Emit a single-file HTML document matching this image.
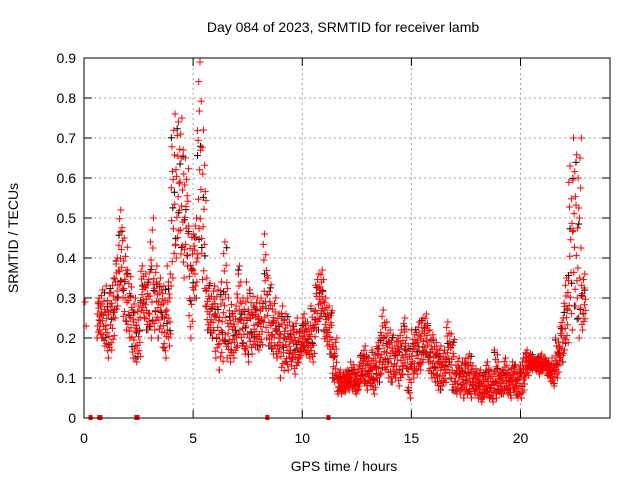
<!DOCTYPE html>
<html><head><meta charset="utf-8"><style>
body{margin:0;background:#fff}
svg{display:block;font-family:"Liberation Sans",sans-serif}
</style></head><body>
<svg id="chart" width="640" height="480" xmlns="http://www.w3.org/2000/svg">
<rect width="640" height="480" fill="#fff"/>
<text x="343" y="32" font-size="14" text-anchor="middle">Day 084 of 2023, SRMTID for receiver lamb</text>
<text transform="translate(18,238) rotate(-90)" font-size="14" text-anchor="middle">SRMTID / TECUs</text>
<text x="344" y="471" font-size="14" text-anchor="middle">GPS time / hours</text>
<g id="grid"></g>
<g id="ticks"></g>
<g id="pts"></g>
<rect x="84" y="58" width="526" height="360" fill="none" stroke="#000" stroke-width="1"/>
</svg>
<script>
const xTicks=[0,5,10,15,20];
const yTicks=[0,0.1,0.2,0.3,0.4,0.5,0.6,0.7,0.8,0.9];
const yTickLabels=["0","0.1","0.2","0.3","0.4","0.5","0.6","0.7","0.8","0.9"];
const binStart=0.6, binStep=0.2;
const lo=[.20,.18,.15,.17,.25,.30,.22,.20,.15,.14,.25,.22,.20,.22,.20,.15,.18,.35,.40,.35,.38,.20,.30,.40,.28,.22,.20,.15,.12,.15,.14,.15,.18,.16,.14,.16,.18,.17,.20,.18,.16,.15,.10,.12,.13,.11,.14,.16,.15,.14,.22,.25,.18,.16,.09,.06,.06,.07,.07,.06,.08,.07,.08,.06,.09,.11,.10,.09,.10,.08,.11,.05,.10,.11,.12,.14,.10,.09,.07,.08,.10,.07,.06,.06,.05,.05,.06,.05,.04,.05,.04,.05,.06,.06,.05,.07,.05,.05,.10,.12,.12,.11,.12,.10,.08,.10,.14,.17,.22,.28,.20,.22];
const hi=[.30,.32,.33,.35,.40,.52,.45,.37,.30,.28,.38,.36,.50,.38,.35,.33,.38,.76,.74,.75,.65,.48,.50,.89,.72,.35,.33,.32,.34,.44,.30,.28,.38,.30,.34,.32,.30,.30,.46,.35,.30,.26,.28,.26,.24,.25,.22,.26,.24,.28,.36,.37,.30,.28,.20,.12,.11,.12,.14,.12,.16,.18,.15,.17,.20,.27,.24,.22,.20,.22,.25,.18,.22,.24,.25,.26,.22,.20,.18,.17,.24,.21,.15,.14,.15,.16,.13,.12,.11,.14,.12,.17,.12,.15,.12,.14,.13,.15,.17,.16,.15,.16,.15,.14,.15,.20,.25,.35,.63,.70,.70,.36];
const zeroTimes=[0.3,0.7,0.75,2.4,2.45,8.4,11.2];
const extraT=[0.05,0.1];
const extraV=[0.29,0.23];

const X=t=>84+t*(526/24.1);
const Y=v=>418-v*400;
const NS="http://www.w3.org/2000/svg";
const grid=document.getElementById('grid'),ticks=document.getElementById('ticks'),pts=document.getElementById('pts');
function mk(tag,attrs,parent){const e=document.createElementNS(NS,tag);for(const k in attrs)e.setAttribute(k,attrs[k]);parent.appendChild(e);return e;}
yTicks.forEach((v,i)=>{
  const y=Y(v);
  if(i>0&&i<yTicks.length-1){const g=mk('line',{x1:84,x2:610,y1:y,y2:y,stroke:'#a0a0a0','stroke-dasharray':'2,3'},grid);
  
  }
  mk('line',{x1:84,x2:92,y1:y,y2:y,stroke:'#000'},ticks);
  mk('line',{x1:602,x2:610,y1:y,y2:y,stroke:'#000'},ticks);
  const t=mk('text',{x:76,y:y+5,'font-size':14,'text-anchor':'end'},ticks);t.textContent=yTickLabels[i];
  
  
});
xTicks.forEach(v=>{
  const x=X(v);
  if(v>0){const g=mk('line',{x1:x,x2:x,y1:58,y2:418,stroke:'#a0a0a0','stroke-dasharray':'2,3'},grid);
  
  }
  mk('line',{x1:x,x2:x,y1:418,y2:410,stroke:'#000'},ticks);
  mk('line',{x1:x,x2:x,y1:58,y2:66,stroke:'#000'},ticks);
  const t=mk('text',{x:x,y:443,'font-size':14,'text-anchor':'middle'},ticks);t.textContent=String(v);
  
  
});
function plus(t,v,col){
  const x=X(t),y=Y(v);
  const p=mk('path',{d:`M${x-3.5},${y}h7M${x},${y-3.5}v7`,stroke:col,'stroke-width':1,fill:'none'},pts);
  
  
}
const frac=[0,.6,.3,.9,.15,.75,.45,1,.2,.55,.35,.8,.1,.65];
lo.forEach((l,i)=>{const h=hi[i];for(let k=0;k<3;k++){const f=frac[(k*3+i)%frac.length];plus(binStart+i*binStep+k*0.07,l+(h-l)*f*0.95,'#000');}});
lo.forEach((l,i)=>{const h=hi[i];for(let k=0;k<14;k++){const f=frac[(k+i*3)%frac.length];plus(binStart+i*binStep+k*0.0143,l+(h-l)*f,'#f00');}});
extraT.forEach((t,i)=>plus(t,extraV[i],'#f00'));
zeroTimes.forEach(t=>{const r=mk('rect',{x:X(t)-2,y:415,width:4,height:5,fill:'#f00'},pts);

});
</script>
</body></html>
